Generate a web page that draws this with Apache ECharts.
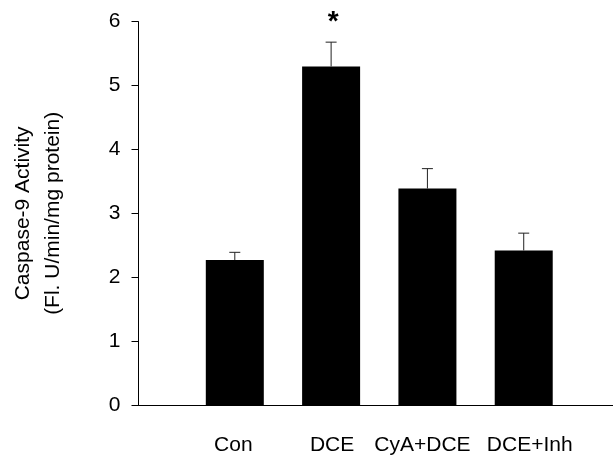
<!DOCTYPE html>
<html>
<head>
<meta charset="utf-8">
<script src="https://cdn.jsdelivr.net/npm/echarts@6/dist/echarts.min.js"></script>
<style>html,body{margin:0;padding:0;background:#fff;}#chart{width:613px;height:464px;}</style>
</head>
<body>
<div id="chart"></div>
<script>
var categories = ['Con', 'DCE', 'CyA+DCE', 'DCE+Inh'];
var positions = [1, 2, 3, 4];
var means = [2.27, 5.30, 3.39, 2.42];
var errors = [0.12, 0.38, 0.31, 0.27];
var marks = ['', '*', '', ''];
var yTicks = [0, 1, 2, 3, 4, 5, 6];

var FONT = '"Liberation Sans", Arial, Helvetica, sans-serif';
var chart = echarts.init(document.getElementById('chart'), null, {renderer: 'canvas'});

var barData = positions.map(function (p, i) { return [p, means[i]]; });
var errData = positions.map(function (p, i) { return [p, means[i], means[i] + errors[i], i]; });

// small per-label horizontal nudges (label padding) to match the reference placement
var labelStyleNames = ['c0', 'c1', 'c2', 'c3'];
var rich = {
  c0: {fontSize: 21, fontFamily: FONT, color: '#000', padding: [0, 3, 0, 0]},
  c1: {fontSize: 21, fontFamily: FONT, color: '#000', padding: [0, 0, 0, 2]},
  c2: {fontSize: 21, fontFamily: FONT, color: '#000', padding: [0, 10, 0, 0]},
  c3: {fontSize: 21, fontFamily: FONT, color: '#000', padding: [0, 0, 0, 12]}
};

chart.setOption({
  animation: false,
  backgroundColor: '#fff',
  grid: {left: 138.5, right: 0, top: 21.7, bottom: 59, containLabel: false, outerBoundsMode: 'none'},
  xAxis: {
    type: 'value', min: 0, max: 4.927, interval: 1,
    axisLine: {show: true, lineStyle: {color: '#000', width: 1}},
    axisTick: {show: false},
    splitLine: {show: false},
    axisLabel: {
      show: true, margin: 30, color: '#000', fontSize: 21, fontFamily: FONT,
      showMinLabel: false, showMaxLabel: false, rich: rich,
      formatter: function (v) {
        var idx = positions.indexOf(Math.round(v));
        if (Math.abs(v - Math.round(v)) < 1e-6 && idx >= 0) {
          return '{' + labelStyleNames[idx] + '|' + categories[idx] + '}';
        }
        return '';
      }
    }
  },
  yAxis: {
    type: 'value', min: 0, max: 6, interval: 1,
    axisLine: {show: true, lineStyle: {color: '#000', width: 1}},
    axisTick: {show: true, length: 7, lineStyle: {color: '#000'}},
    splitLine: {show: false},
    axisLabel: {margin: 18, color: '#000', fontSize: 21, fontFamily: FONT,
      formatter: function (v) { return yTicks.indexOf(v) >= 0 ? String(v) : ''; }},
    name: 'Caspase-9 Activity\n(Fl. U/min/mg protein)',
    nameLocation: 'middle', nameRotate: 90, nameGap: 70,
    nameTextStyle: {color: '#000', fontSize: 21, fontFamily: FONT, lineHeight: 30}
  },
  series: [
    {
      type: 'bar', data: barData, barWidth: 58,
      itemStyle: {color: '#000'}, z: 2
    },
    {
      type: 'custom', data: errData, z: 1,
      renderItem: function (params, api) {
        var x = api.value(0);
        var lo = api.coord([x, api.value(1)]);
        var hi = api.coord([x, api.value(2)]);
        var i = api.value(3);
        var children = [
          {type: 'line', shape: {x1: lo[0], y1: lo[1], x2: hi[0], y2: hi[1]}, style: {stroke: '#222', lineWidth: 1}},
          {type: 'line', shape: {x1: hi[0] - 5.5, y1: hi[1], x2: hi[0] + 5.5, y2: hi[1]}, style: {stroke: '#222', lineWidth: 1}}
        ];
        if (marks[i]) {
          children.push({type: 'text', style: {text: marks[i], x: hi[0] + 2, y: hi[1] - 20,
            textAlign: 'center', textVerticalAlign: 'middle',
            font: 'bold 28px ' + FONT, fill: '#000'}});
        }
        return {type: 'group', children: children};
      }
    }
  ]
});
</script>
</body>
</html>
